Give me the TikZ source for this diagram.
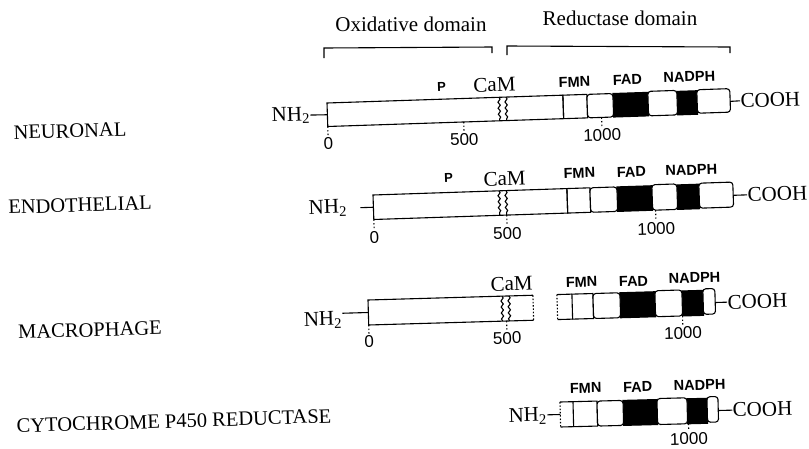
\documentclass[tikz,border=0pt]{standalone}
\usepackage{fontspec}
\setmainfont{Liberation Serif}
\newfontfamily\numfont{Liberation Sans}
\newfontfamily\cofont{Liberation Sans}
\usetikzlibrary{decorations.pathmorphing}

\tikzset{
  big/.style={font=\fontsize{21}{24}\selectfont, inner sep=0pt},
  lbl/.style={font=\fontsize{20.5}{24}\selectfont, inner sep=0pt, rotate=1.8},
  num/.style={font=\numfont\fontsize{17}{20}\selectfont, inner sep=0pt},
  cof/.style={font=\cofont\bfseries\fontsize{14.5}{17}\selectfont, inner sep=0pt},
  psite/.style={font=\cofont\bfseries\fontsize{13}{15}\selectfont, inner sep=0pt},
  rseg/.style={draw, fill=white, rounded corners=3pt},
  dark/.style={draw, fill=black},
  wavy/.style={decorate, decoration={snake, amplitude=1.1pt, segment length=6pt}},
  tickln/.style={dash pattern=on 1.4pt off 2.2pt, shorten >=1.5pt},
  dotedge/.style={dash pattern=on 1.5pt off 1.8pt},
}

\begin{document}
\begin{tikzpicture}[x=1pt, y=-1pt, line width=1.1pt]
\useasboundingbox (0,0) rectangle (809,448);

% domain headings and brackets
\node[big] (oxd) at (411,24) {Oxidative domain};
\node[big] (red) at (620,18.5) {Reductase domain};
\draw (324,58) -- (324,48) -- (492,47) -- (492,53);
\draw (507,55) -- (507,46) -- (730,47) -- (730,53);

% isoform names
\node[lbl] (neu) at (70,131) {NEURONAL};
\node[lbl] (endo) at (80,205) {ENDOTHELIAL};
\node[lbl] (mac) at (90,330) {MACROPHAGE};
\node[lbl] (cyt) at (174,421) {CYTOCHROME P450 REDUCTASE};

% ---------- neuronal ----------
\begin{scope}[shift={(327,103)}, rotate=1.9, transform shape]
  \draw (0,0) rectangle (236,23.5);
  \draw[wavy] (172,0) -- (172,23.5);
  \draw[wavy] (179,0) -- (179,23.5);
  \draw (236,0) rectangle (260,23.5);
  \path[dark] (286,0) rectangle (321,23.5);
  \path[dark] (350,0) rectangle (370,23.5);
  \path[rseg] (260,0) rectangle (286,23.5);
  \path[rseg] (321,-1) rectangle (350,23.5);
  \path[rseg] (370,-1) rectangle (403,22.5);
  \coordinate (b1L) at (0,11.75);
  \coordinate (b1R) at (403,11.75);
  \node[big, anchor=east] (nh1) at (-17,11.5) {NH\textsubscript{2}};
  \node[big, anchor=west] (co1) at (413,11.5) {COOH};
  \draw (nh1.east) -- (b1L);
  \draw (b1R) -- (co1.west);
  \node[psite] (p1) at (115,-12) {P};
  \node[big] (cam1) at (168,-12.6) {CaM};
  \node[cof] (fmn1) at (248,-13) {FMN};
  \node[cof] (fad1) at (301,-13.4) {FAD};
  \node[cof] (nad1) at (363,-14.4) {NADPH};
  \coordinate (t1a) at (0,23.5);
  \coordinate (t1b) at (136,23.5);
  \coordinate (t1c) at (274,23.5);
  \node[num] (z1) at (0,41) {0};
  \node[num] (f1) at (136,41) {500};
  \node[num] (k1) at (274,41) {1000};
  \draw[tickln] (t1a) -- (z1.north);
  \draw[tickln] (t1b) -- (f1.north);
  \draw[tickln] (t1c) -- (k1.north);
\end{scope}

% ---------- endothelial ----------
\begin{scope}[shift={(373,195)}, rotate=1.9, transform shape]
  \draw (0,0) rectangle (194,24.5);
  \draw[wavy] (126,0) -- (126,24.5);
  \draw[wavy] (133,0) -- (133,24.5);
  \draw (194,0) rectangle (217,24.5);
  \path[dark] (244,0) rectangle (279,24.5);
  \path[dark] (304,0) rectangle (326,24.5);
  \path[rseg] (217,0) rectangle (244,24.5);
  \path[rseg] (279,-1) rectangle (304,24.5);
  \path[rseg] (326,-1) rectangle (360,24);
  \coordinate (b2L) at (0,12.25);
  \coordinate (b2R) at (360,12.25);
  \coordinate (d2) at (-13,12.25);
  \node[big, anchor=east] (nh2) at (-26,12) {NH\textsubscript{2}};
  \node[big, anchor=west] (co2) at (374,12.25) {COOH};
  \draw (d2) -- (b2L);
  \draw (b2R) -- (co2.west);
  \node[psite] (p2) at (76,-14.5) {P};
  \node[big] (cam2) at (132,-12) {CaM};
  \node[cof] (fmn2) at (207,-15) {FMN};
  \node[cof] (fad2) at (259,-14.5) {FAD};
  \node[cof] (nad2) at (319,-14.5) {NADPH};
  \coordinate (t2a) at (0,24.5);
  \coordinate (t2b) at (133,24.5);
  \coordinate (t2c) at (282,24.5);
  \node[num] (z2) at (0,43) {0};
  \node[num] (f2) at (133,43) {500};
  \node[num] (k2) at (282,43) {1000};
  \draw[tickln] (t2a) -- (z2.north);
  \draw[tickln] (t2b) -- (f2.north);
  \draw[tickln] (t2c) -- (k2.north);
\end{scope}

% ---------- macrophage ----------
\begin{scope}[shift={(368,300)}, rotate=1.65, transform shape]
  \draw (165,0) -- (0,0) -- (0,25) -- (165,25);
  \draw[dotedge] (165,0) -- (165,25);
  \draw[wavy] (134,0) -- (134,25);
  \draw[wavy] (141,0) -- (141,25);
  \draw (204,0) -- (189,0);
  \draw (189,25) -- (204,25);
  \draw[dotedge] (189,0) -- (189,25);
  \draw (204,0) rectangle (225,25);
  \path[dark] (252,0) rectangle (287,25);
  \path[dark] (314,0) rectangle (335,25);
  \path[rseg] (225,0) rectangle (252,25);
  \path[rseg] (287,-1) rectangle (314,25);
  \path[rseg] (335,-1.5) rectangle (347,24);
  \coordinate (b3L) at (0,12.5);
  \coordinate (b3R) at (347,12.5);
  \node[big, anchor=east] (nh3) at (-26,19) {NH\textsubscript{2}};
  \node[big, anchor=west] (co3) at (359,12.5) {COOH};
  \draw (nh3.east |- b3L) -- (b3L);
  \draw (b3R) -- (co3.west);
  \node[big] (cam3) at (144,-12) {CaM};
  \node[cof] (fmn3) at (214,-12) {FMN};
  \node[cof] (fad3) at (266,-11) {FAD};
  \node[cof] (nad3) at (327,-13) {NADPH};
  \coordinate (t3a) at (0,25);
  \coordinate (t3b) at (138,25);
  \coordinate (t3c) at (314,25);
  \node[num] (z3) at (0,42) {0};
  \node[num] (f3) at (138,42) {500};
  \node[num] (k3) at (314,42) {1000};
  \draw[tickln] (t3a) -- (z3.north);
  \draw[tickln] (t3b) -- (f3.north);
  \draw[tickln] (t3c) -- (k3.north);
\end{scope}

% ---------- cytochrome P450 reductase ----------
\begin{scope}[shift={(560,402)}, rotate=1.45, transform shape]
  \draw (13,0) -- (0,0);
  \draw (0,25) -- (13,25);
  \draw[dotedge] (0,0) -- (0,25);
  \draw (13,0) rectangle (37,25);
  \path[dark] (63,0) rectangle (97,25);
  \path[dark] (127,0) rectangle (147,25);
  \path[rseg] (37,0) rectangle (63,25);
  \path[rseg] (97,-1) rectangle (127,25);
  \path[rseg] (147,-1.5) rectangle (158,24);
  \coordinate (b4L) at (0,12.5);
  \coordinate (b4R) at (158,12.5);
  \coordinate (d4) at (-13,12.5);
  \node[big, anchor=east] (nh4) at (-13,13.5) {NH\textsubscript{2}};
  \node[big, anchor=west] (co4) at (172,12.5) {COOH};
  \draw (d4) -- (b4L);
  \draw (b4R) -- (co4.west);
  \node[cof] (fmn4) at (26,-13.4) {FMN};
  \node[cof] (fad4) at (78,-13) {FAD};
  \node[cof] (nad4) at (140,-13.5) {NADPH};
  \coordinate (t4c) at (128,25);
  \node[num] (k4) at (128,40) {1000};
  \draw[tickln] (t4c) -- (k4.north);
\end{scope}
\end{tikzpicture}
\end{document}
